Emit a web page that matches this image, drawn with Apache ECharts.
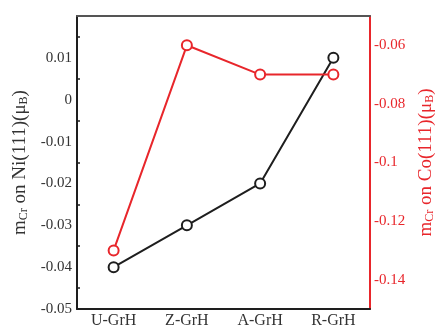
<!DOCTYPE html>
<html>
<head>
<meta charset="utf-8">
<script src="https://cdn.jsdelivr.net/npm/echarts@6/dist/echarts.min.js"></script>
<style>
  html, body { margin: 0; padding: 0; background: #fff; }
  #chart { width: 444px; height: 329px; }
</style>
</head>
<body>
<div id="chart"></div>
<script>
// 类别
const categories = ["U-GrH", "Z-GrH", "A-GrH", "R-GrH"];
// Ni(111) 上的 Cr 磁矩 (左轴)
const niValues = [-0.04, -0.03, -0.02, 0.01];
// Co(111) 上的 Cr 磁矩 (右轴)
const coValues = [-0.13, -0.06, -0.07, -0.07];

const black = "#1e1e1e";
const red = "#e8262b";
const font = "Liberation Serif";

const chart = echarts.init(document.getElementById("chart"));

const subRich = {
  sub: { fontSize: 12, verticalAlign: "bottom", padding: [8, 0, 0, 0], fontFamily: font }
};

const options = {
  animation: false,
  grid: { left: 77, right: 72, top: 16, bottom: 19 },
  xAxis: [
    {
      type: "category",
      data: categories,
      boundaryGap: true,
      axisLine: { onZero: false, lineStyle: { color: black, width: 2 } },
      axisTick: { inside: true, alignWithLabel: true, length: 5, lineStyle: { color: black, width: 1.5 } },
      axisLabel: { color: "#333", fontFamily: font, fontSize: 16, margin: 4 },
      splitLine: { show: false }
    },
    {
      type: "category",
      data: categories,
      position: "top",
      boundaryGap: true,
      axisLine: { onZero: false, lineStyle: { color: "#555", width: 2 } },
      axisTick: { inside: true, alignWithLabel: true, length: 5, lineStyle: { color: black, width: 1.5 } },
      axisLabel: { show: false },
      splitLine: { show: false }
    }
  ],
  yAxis: [
    {
      type: "value",
      position: "left",
      min: -0.05,
      max: 0.02,
      interval: 0.01,
      axisLine: { show: true, onZero: false, lineStyle: { color: black, width: 2 } },
      axisTick: { inside: true, length: 6, lineStyle: { color: black, width: 1.5 } },
      minorTick: { show: true, splitNumber: 2, length: 3, lineStyle: { color: black, width: 1.5 } },
      splitLine: { show: false },
      axisLabel: {
        color: "#333", fontFamily: font, fontSize: 15, margin: 5,
        showMaxLabel: false,
        formatter: (v) => String(Math.round(v * 100) / 100)
      },
      name: "m{sub|Cr} on Ni(111)(μ{sub|B})",
      nameLocation: "middle",
      nameRotate: 90,
      nameGap: 46,
      nameTextStyle: { color: "#333", fontFamily: font, fontSize: 19, rich: subRich }
    },
    {
      type: "value",
      position: "right",
      min: -0.15,
      max: -0.05,
      interval: 0.01,
      axisLine: { show: true, onZero: false, lineStyle: { color: red, width: 2 } },
      axisTick: { inside: true, length: 5, lineStyle: { color: red, width: 1.5 } },
      splitLine: { show: false },
      axisLabel: {
        color: red, fontFamily: font, fontSize: 15, margin: 4,
        formatter: (v) => {
          let n = Math.round(v * 100);
          if (n % 2 !== 0) return "";
          return String(n / 100);
        }
      },
      name: "m{sub|Cr} on Co(111)(μ{sub|B})",
      nameLocation: "middle",
      nameRotate: 90,
      nameGap: 46,
      nameTextStyle: { color: red, fontFamily: font, fontSize: 19, rich: subRich }
    }
  ],
  series: [
    {
      name: "Ni",
      type: "line",
      yAxisIndex: 0,
      data: niValues,
      symbol: "emptyCircle",
      symbolSize: 10,
      lineStyle: { color: black, width: 2 },
      itemStyle: { color: black, borderColor: black, borderWidth: 2.5 }
    },
    {
      name: "Co",
      type: "line",
      yAxisIndex: 1,
      data: coValues,
      symbol: "emptyCircle",
      symbolSize: 10,
      lineStyle: { color: red, width: 2 },
      itemStyle: { color: red, borderColor: red, borderWidth: 2.5 }
    }
  ]
};

chart.setOption(options);
</script>
</body>
</html>
